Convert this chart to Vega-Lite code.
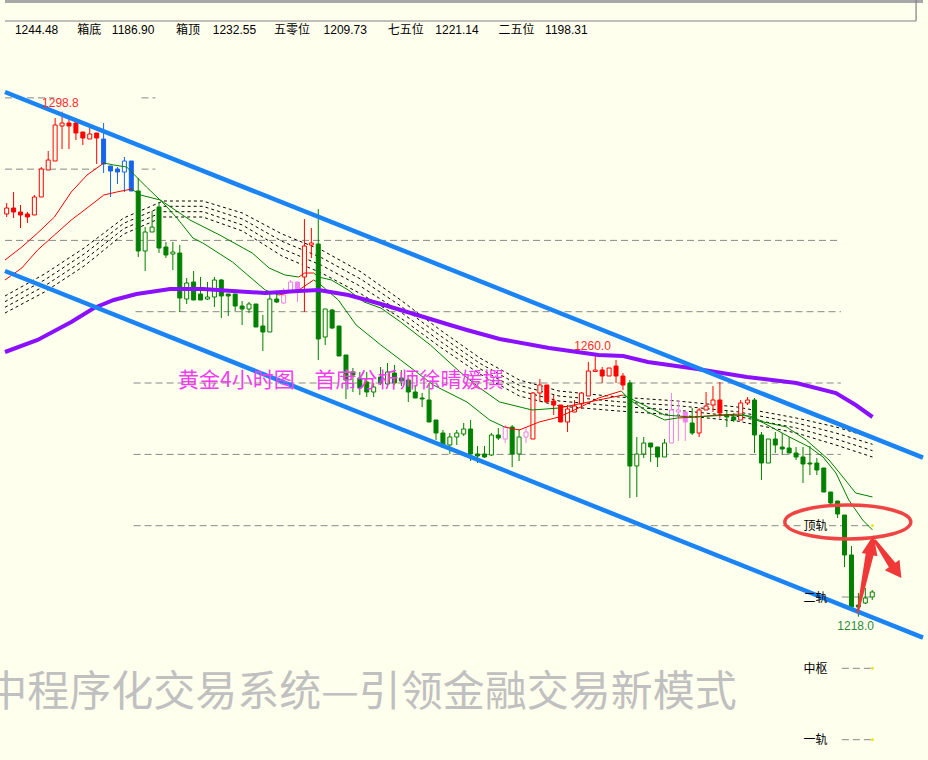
{
"$schema":"https://vega.github.io/schema/vega-lite/v6.json",
"width":928,"height":760,"padding":0,
"autosize":{"type":"none"},
"background":"#ffffee",
"config":{"view":{"stroke":null}},
"datasets":{
"candles":[
{"i":0,"o":1282.42,"h":1284.18,"l":1281.94,"c":1283.38,"k":"r"},
{"i":1,"o":1283.38,"h":1285.94,"l":1281.78,"c":1282.74,"k":"r"},
{"i":2,"o":1282.74,"h":1283.86,"l":1280.18,"c":1282.26,"k":"r"},
{"i":3,"o":1282.42,"h":1282.74,"l":1280.98,"c":1281.94,"k":"r"},
{"i":4,"o":1282.26,"h":1285.46,"l":1282.26,"c":1285.14,"k":"r"},
{"i":5,"o":1285.14,"h":1289.94,"l":1285.14,"c":1289.62,"k":"r"},
{"i":6,"o":1289.46,"h":1292.5,"l":1289.46,"c":1291.06,"k":"r"},
{"i":7,"o":1290.9,"h":1297.78,"l":1290.9,"c":1296.66,"k":"r"},
{"i":8,"o":1296.5,"h":1298.8,"l":1292.82,"c":1296.98,"k":"r"},
{"i":9,"o":1296.98,"h":1297.62,"l":1292.82,"c":1296.5,"k":"r"},
{"i":10,"o":1296.98,"h":1297.62,"l":1294.26,"c":1295.38,"k":"r"},
{"i":11,"o":1295.54,"h":1295.54,"l":1293.46,"c":1294.58,"k":"r"},
{"i":12,"o":1294.42,"h":1296.18,"l":1294.42,"c":1295.22,"k":"r"},
{"i":13,"o":1295.38,"h":1295.38,"l":1290.42,"c":1294.58,"k":"r"},
{"i":14,"o":1294.42,"h":1296.98,"l":1288.98,"c":1290.42,"k":"b"},
{"i":15,"o":1290.1,"h":1290.1,"l":1285.14,"c":1289.3,"k":"b"},
{"i":16,"o":1289.62,"h":1289.94,"l":1287.22,"c":1289.14,"k":"b"},
{"i":17,"o":1289.14,"h":1291.54,"l":1285.94,"c":1290.9,"k":"b"},
{"i":18,"o":1290.9,"h":1290.9,"l":1286.1,"c":1286.1,"k":"b"},
{"i":19,"o":1286.1,"h":1288.18,"l":1275.54,"c":1276.5,"k":"g"},
{"i":20,"o":1276.5,"h":1280.34,"l":1273.3,"c":1279.54,"k":"g"},
{"i":21,"o":1279.54,"h":1282.9,"l":1279.54,"c":1280.34,"k":"g"},
{"i":22,"o":1283.54,"h":1284.34,"l":1276.18,"c":1276.98,"k":"g"},
{"i":23,"o":1277.14,"h":1277.94,"l":1275.38,"c":1275.86,"k":"g"},
{"i":24,"o":1276.02,"h":1277.94,"l":1273.46,"c":1276.34,"k":"g"},
{"i":25,"o":1276.18,"h":1277.46,"l":1266.74,"c":1268.98,"k":"g"},
{"i":26,"o":1268.82,"h":1272.18,"l":1268.02,"c":1271.38,"k":"g"},
{"i":27,"o":1271.54,"h":1273.3,"l":1268.66,"c":1268.66,"k":"g"},
{"i":28,"o":1269.62,"h":1272.34,"l":1268.66,"c":1268.66,"k":"g"},
{"i":29,"o":1268.82,"h":1271.54,"l":1268.66,"c":1269.14,"k":"g"},
{"i":30,"o":1269.14,"h":1272.34,"l":1267.54,"c":1271.86,"k":"g"},
{"i":31,"o":1271.86,"h":1272.02,"l":1265.78,"c":1269.3,"k":"g"},
{"i":32,"o":1269.62,"h":1269.62,"l":1266.1,"c":1269.3,"k":"g"},
{"i":33,"o":1269.62,"h":1269.62,"l":1266.9,"c":1267.7,"k":"g"},
{"i":34,"o":1267.7,"h":1268.5,"l":1264.66,"c":1267.22,"k":"g"},
{"i":35,"o":1267.22,"h":1268.34,"l":1266.58,"c":1268.02,"k":"g"},
{"i":36,"o":1268.02,"h":1268.02,"l":1264.34,"c":1264.34,"k":"g"},
{"i":37,"o":1264.5,"h":1266.26,"l":1260.5,"c":1263.54,"k":"g"},
{"i":38,"o":1263.54,"h":1269.78,"l":1263.54,"c":1268.82,"k":"g"},
{"i":39,"o":1268.82,"h":1269.78,"l":1268.18,"c":1268.34,"k":"g"},
{"i":40,"o":1268.18,"h":1270.58,"l":1268.02,"c":1269.46,"k":"p"},
{"i":41,"o":1269.94,"h":1271.86,"l":1269.94,"c":1271.54,"k":"p"},
{"i":42,"o":1271.54,"h":1271.54,"l":1268.34,"c":1269.94,"k":"p"},
{"i":43,"o":1272.34,"h":1281.62,"l":1266.74,"c":1277.3,"k":"r"},
{"i":44,"o":1277.46,"h":1280.18,"l":1275.38,"c":1277.78,"k":"r"},
{"i":45,"o":1277.62,"h":1283.22,"l":1259.06,"c":1262.42,"k":"g"},
{"i":46,"o":1262.74,"h":1267.22,"l":1261.46,"c":1267.22,"k":"g"},
{"i":47,"o":1267.06,"h":1267.22,"l":1264.02,"c":1264.18,"k":"g"},
{"i":48,"o":1264.5,"h":1264.5,"l":1259.7,"c":1259.7,"k":"g"},
{"i":49,"o":1259.86,"h":1259.86,"l":1252.82,"c":1255.86,"k":"g"},
{"i":50,"o":1257.14,"h":1257.78,"l":1253.94,"c":1256.66,"k":"g"},
{"i":51,"o":1256.18,"h":1257.14,"l":1253.46,"c":1254.58,"k":"g"},
{"i":52,"o":1255.54,"h":1257.14,"l":1253.14,"c":1253.94,"k":"g"},
{"i":53,"o":1253.94,"h":1255.38,"l":1253.14,"c":1254.74,"k":"g"},
{"i":54,"o":1256.34,"h":1257.94,"l":1255.06,"c":1255.38,"k":"g"},
{"i":55,"o":1255.22,"h":1258.58,"l":1254.9,"c":1257.14,"k":"g"},
{"i":56,"o":1256.98,"h":1258.26,"l":1255.06,"c":1255.38,"k":"g"},
{"i":57,"o":1256.18,"h":1257.46,"l":1254.9,"c":1255.7,"k":"g"},
{"i":58,"o":1255.86,"h":1256.18,"l":1252.34,"c":1253.94,"k":"g"},
{"i":59,"o":1253.94,"h":1255.06,"l":1252.98,"c":1252.98,"k":"g"},
{"i":60,"o":1252.98,"h":1253.78,"l":1251.54,"c":1252.82,"k":"g"},
{"i":61,"o":1252.66,"h":1255.38,"l":1249.14,"c":1249.14,"k":"g"},
{"i":62,"o":1249.46,"h":1249.46,"l":1246.26,"c":1247.38,"k":"g"},
{"i":63,"o":1247.38,"h":1247.86,"l":1244.98,"c":1245.14,"k":"g"},
{"i":64,"o":1245.46,"h":1247.38,"l":1244.02,"c":1246.74,"k":"g"},
{"i":65,"o":1246.74,"h":1247.86,"l":1245.46,"c":1247.38,"k":"g"},
{"i":66,"o":1247.22,"h":1248.98,"l":1246.9,"c":1248.02,"k":"g"},
{"i":67,"o":1248.02,"h":1249.46,"l":1242.9,"c":1244.02,"k":"g"},
{"i":68,"o":1244.02,"h":1245.3,"l":1242.58,"c":1243.7,"k":"g"},
{"i":69,"o":1244.02,"h":1245.3,"l":1243.38,"c":1243.54,"k":"g"},
{"i":70,"o":1243.86,"h":1247.38,"l":1243.7,"c":1247.06,"k":"g"},
{"i":71,"o":1247.06,"h":1248.18,"l":1246.26,"c":1246.58,"k":"g"},
{"i":72,"o":1246.42,"h":1248.66,"l":1245.78,"c":1248.34,"k":"p"},
{"i":73,"o":1248.34,"h":1248.66,"l":1241.94,"c":1244.02,"k":"g"},
{"i":74,"o":1244.02,"h":1248.02,"l":1242.9,"c":1246.74,"k":"g"},
{"i":75,"o":1246.74,"h":1248.34,"l":1245.78,"c":1247.54,"k":"p"},
{"i":76,"o":1246.42,"h":1253.94,"l":1246.42,"c":1253.78,"k":"r"},
{"i":77,"o":1253.78,"h":1256.02,"l":1252.34,"c":1255.06,"k":"r"},
{"i":78,"o":1255.06,"h":1255.06,"l":1252.34,"c":1252.34,"k":"r"},
{"i":79,"o":1252.5,"h":1253.46,"l":1250.26,"c":1251.86,"k":"r"},
{"i":80,"o":1251.86,"h":1251.86,"l":1249.14,"c":1249.14,"k":"r"},
{"i":81,"o":1249.14,"h":1251.86,"l":1247.54,"c":1251.22,"k":"r"},
{"i":82,"o":1250.74,"h":1252.66,"l":1250.74,"c":1251.7,"k":"r"},
{"i":83,"o":1252.02,"h":1253.94,"l":1251.22,"c":1253.78,"k":"r"},
{"i":84,"o":1253.3,"h":1258.74,"l":1253.3,"c":1257.3,"k":"r"},
{"i":85,"o":1257.22,"h":1260.0,"l":1257.22,"c":1257.46,"k":"r"},
{"i":86,"o":1257.46,"h":1257.94,"l":1255.38,"c":1256.5,"k":"r"},
{"i":87,"o":1256.5,"h":1257.78,"l":1256.5,"c":1257.78,"k":"r"},
{"i":88,"o":1258.1,"h":1259.06,"l":1255.38,"c":1256.5,"k":"r"},
{"i":89,"o":1256.5,"h":1256.98,"l":1254.26,"c":1255.06,"k":"r"},
{"i":90,"o":1255.38,"h":1255.86,"l":1236.98,"c":1242.1,"k":"g"},
{"i":91,"o":1242.1,"h":1246.74,"l":1237.14,"c":1244.02,"k":"g"},
{"i":92,"o":1244.02,"h":1246.74,"l":1243.38,"c":1245.78,"k":"g"},
{"i":93,"o":1245.78,"h":1245.78,"l":1242.74,"c":1245.14,"k":"g"},
{"i":94,"o":1245.14,"h":1245.14,"l":1241.94,"c":1243.54,"k":"g"},
{"i":95,"o":1243.54,"h":1246.42,"l":1243.54,"c":1245.78,"k":"g"},
{"i":96,"o":1245.78,"h":1253.78,"l":1245.78,"c":1251.06,"k":"p"},
{"i":97,"o":1250.74,"h":1252.66,"l":1246.1,"c":1251.06,"k":"p"},
{"i":98,"o":1250.74,"h":1250.74,"l":1246.1,"c":1249.14,"k":"p"},
{"i":99,"o":1248.98,"h":1251.38,"l":1247.06,"c":1247.38,"k":"g"},
{"i":100,"o":1247.38,"h":1251.38,"l":1246.74,"c":1251.06,"k":"r"},
{"i":101,"o":1251.06,"h":1253.94,"l":1251.06,"c":1251.7,"k":"r"},
{"i":102,"o":1251.86,"h":1254.9,"l":1250.74,"c":1252.66,"k":"r"},
{"i":103,"o":1252.66,"h":1255.54,"l":1249.78,"c":1250.58,"k":"r"},
{"i":104,"o":1250.26,"h":1251.06,"l":1248.34,"c":1249.94,"k":"g"},
{"i":105,"o":1249.94,"h":1250.58,"l":1249.14,"c":1249.46,"k":"g"},
{"i":106,"o":1249.46,"h":1252.66,"l":1249.46,"c":1252.18,"k":"r"},
{"i":107,"o":1252.18,"h":1253.14,"l":1251.86,"c":1252.66,"k":"r"},
{"i":108,"o":1252.66,"h":1252.98,"l":1244.18,"c":1247.06,"k":"g"},
{"i":109,"o":1247.06,"h":1247.54,"l":1239.86,"c":1242.58,"k":"g"},
{"i":110,"o":1242.58,"h":1246.42,"l":1242.58,"c":1246.42,"k":"g"},
{"i":111,"o":1246.42,"h":1247.54,"l":1244.18,"c":1245.46,"k":"g"},
{"i":112,"o":1245.14,"h":1247.38,"l":1243.86,"c":1244.82,"k":"g"},
{"i":113,"o":1244.98,"h":1246.74,"l":1244.18,"c":1244.18,"k":"g"},
{"i":114,"o":1244.18,"h":1245.14,"l":1243.06,"c":1243.54,"k":"g"},
{"i":115,"o":1243.54,"h":1245.14,"l":1239.38,"c":1242.42,"k":"g"},
{"i":116,"o":1242.58,"h":1245.3,"l":1240.66,"c":1242.42,"k":"g"},
{"i":117,"o":1242.58,"h":1243.38,"l":1240.66,"c":1241.46,"k":"g"},
{"i":118,"o":1241.78,"h":1241.78,"l":1237.94,"c":1237.94,"k":"g"},
{"i":119,"o":1237.94,"h":1237.94,"l":1235.54,"c":1236.18,"k":"g"},
{"i":120,"o":1236.5,"h":1236.5,"l":1233.78,"c":1234.42,"k":"g"},
{"i":121,"o":1234.26,"h":1234.26,"l":1225.94,"c":1227.86,"k":"g"},
{"i":122,"o":1227.86,"h":1229.3,"l":1219.38,"c":1219.54,"k":"g"},
{"i":123,"o":1219.86,"h":1221.78,"l":1218.0,"c":1219.54,"k":"g"},
{"i":124,"o":1220.18,"h":1222.58,"l":1220.02,"c":1220.98,"k":"g"},
{"i":125,"o":1221.14,"h":1222.26,"l":1220.66,"c":1221.94,"k":"g"}
],
"grid":[
{"i":-0.24,"i2":6.9,"p":1301.0},
{"i":19.47,"i2":21.47,"p":1301.0},
{"i":-0.24,"i2":12.9,"p":1289.6},
{"i":19.47,"i2":21.47,"p":1289.6},
{"i":-0.24,"i2":120.47,"p":1278.2},
{"i":18.61,"i2":120.47,"p":1266.79},
{"i":18.33,"i2":120.47,"p":1255.38},
{"i":18.33,"i2":120.47,"p":1243.96},
{"i":18.33,"i2":114.76,"p":1232.55},
{"i":118.76,"i2":125.04,"p":1232.55},
{"i":120.61,"i2":125.04,"p":1221.14},
{"i":120.61,"i2":125.04,"p":1209.73},
{"i":120.61,"i2":125.04,"p":1198.31}
],
"band":[
{"i":-0.24,"b1":1269.3,"b2":1268.39,"b3":1267.49,"b4":1266.58},
{"i":5.47,"b1":1272.82,"b2":1271.86,"b3":1270.9,"b4":1269.94},
{"i":11.19,"b1":1276.98,"b2":1276.02,"b3":1275.06,"b4":1274.1},
{"i":16.9,"b1":1281.78,"b2":1280.93,"b3":1280.07,"b4":1279.22},
{"i":22.61,"b1":1284.5,"b2":1283.65,"b3":1282.79,"b4":1281.94},
{"i":28.33,"b1":1284.5,"b2":1283.65,"b3":1282.79,"b4":1281.94},
{"i":34.04,"b1":1282.58,"b2":1281.62,"b3":1280.66,"b4":1279.7},
{"i":39.76,"b1":1279.22,"b2":1278.05,"b3":1276.87,"b4":1275.7},
{"i":45.47,"b1":1276.66,"b2":1275.43,"b3":1274.21,"b4":1272.98},
{"i":51.19,"b1":1273.14,"b2":1271.97,"b3":1270.79,"b4":1269.62},
{"i":56.9,"b1":1268.66,"b2":1267.7,"b3":1266.74,"b4":1265.78},
{"i":62.61,"b1":1263.86,"b2":1262.95,"b3":1262.05,"b4":1261.14},
{"i":68.33,"b1":1259.38,"b2":1258.53,"b3":1257.67,"b4":1256.82},
{"i":74.04,"b1":1255.86,"b2":1255.01,"b3":1254.15,"b4":1253.3},
{"i":79.76,"b1":1254.1,"b2":1253.3,"b3":1252.5,"b4":1251.7},
{"i":88.33,"b1":1253.14,"b2":1252.39,"b3":1251.65,"b4":1250.9},
{"i":96.9,"b1":1252.5,"b2":1251.75,"b3":1251.01,"b4":1250.26},
{"i":105.47,"b1":1251.54,"b2":1250.79,"b3":1250.05,"b4":1249.3},
{"i":114.04,"b1":1249.78,"b2":1248.98,"b3":1248.18,"b4":1247.38},
{"i":119.76,"b1":1248.34,"b2":1247.38,"b3":1246.42,"b4":1245.46},
{"i":125.04,"b1":1246.58,"b2":1245.57,"b3":1244.55,"b4":1243.54}
],
"ma":[
{"i":-0.24,"p":1275.06,"s":"f1","k":"r"},{"i":2.19,"p":1277.14,"s":"f1","k":"r"},{"i":4.47,"p":1279.38,"s":"f1","k":"r"},{"i":6.9,"p":1281.94,"s":"f1","k":"r"},{"i":9.33,"p":1285.94,"s":"f1","k":"r"},{"i":11.61,"p":1288.66,"s":"f1","k":"r"},{"i":14.04,"p":1290.58,"s":"f1","k":"r"},
{"i":14.04,"p":1290.58,"s":"f2","k":"g"},{"i":15.47,"p":1290.26,"s":"f2","k":"g"},{"i":17.33,"p":1289.94,"s":"f2","k":"g"},{"i":18.76,"p":1288.34,"s":"f2","k":"g"},{"i":20.19,"p":1286.74,"s":"f2","k":"g"},{"i":22.61,"p":1284.18,"s":"f2","k":"g"},{"i":24.47,"p":1281.94,"s":"f2","k":"g"},{"i":26.9,"p":1278.58,"s":"f2","k":"g"},{"i":28.33,"p":1277.78,"s":"f2","k":"g"},{"i":32.61,"p":1274.74,"s":"f2","k":"g"},{"i":37.33,"p":1270.26,"s":"f2","k":"g"},{"i":39.33,"p":1269.46,"s":"f2","k":"g"},
{"i":39.33,"p":1269.46,"s":"f3","k":"r"},{"i":42.19,"p":1270.26,"s":"f3","k":"r"},{"i":44.33,"p":1271.86,"s":"f3","k":"r"},
{"i":44.33,"p":1271.86,"s":"f4","k":"g"},{"i":45.04,"p":1271.38,"s":"f4","k":"g"},{"i":47.9,"p":1268.66,"s":"f4","k":"g"},{"i":50.47,"p":1264.66,"s":"f4","k":"g"},{"i":54.04,"p":1261.46,"s":"f4","k":"g"},{"i":56.9,"p":1259.06,"s":"f4","k":"g"},{"i":61.61,"p":1255.06,"s":"f4","k":"g"},{"i":66.47,"p":1252.34,"s":"f4","k":"g"},{"i":69.76,"p":1249.46,"s":"f4","k":"g"},{"i":71.9,"p":1248.34,"s":"f4","k":"g"},
{"i":71.9,"p":1248.34,"s":"f5","k":"r"},{"i":74.04,"p":1247.86,"s":"f5","k":"r"},{"i":76.9,"p":1249.14,"s":"f5","k":"r"},{"i":79.76,"p":1249.94,"s":"f5","k":"r"},{"i":82.61,"p":1251.38,"s":"f5","k":"r"},{"i":85.47,"p":1252.98,"s":"f5","k":"r"},{"i":88.76,"p":1254.1,"s":"f5","k":"r"},
{"i":88.76,"p":1254.1,"s":"f6","k":"g"},{"i":90.04,"p":1252.66,"s":"f6","k":"g"},{"i":92.61,"p":1250.74,"s":"f6","k":"g"},{"i":95.04,"p":1249.46,"s":"f6","k":"g"},{"i":96.9,"p":1249.78,"s":"f6","k":"g"},
{"i":96.9,"p":1249.78,"s":"f7","k":"r"},{"i":99.76,"p":1249.94,"s":"f7","k":"r"},{"i":102.61,"p":1250.26,"s":"f7","k":"r"},{"i":106.19,"p":1250.42,"s":"f7","k":"r"},
{"i":106.19,"p":1250.42,"s":"f8","k":"g"},{"i":109.33,"p":1248.98,"s":"f8","k":"g"},{"i":113.04,"p":1246.74,"s":"f8","k":"g"},{"i":115.9,"p":1245.14,"s":"f8","k":"g"},{"i":117.9,"p":1243.54,"s":"f8","k":"g"},{"i":119.76,"p":1240.98,"s":"f8","k":"g"},{"i":121.61,"p":1236.66,"s":"f8","k":"g"},{"i":123.61,"p":1233.46,"s":"f8","k":"g"},{"i":125.04,"p":1231.86,"s":"f8","k":"g"},
{"i":-0.24,"p":1271.86,"s":"s1","k":"r"},{"i":2.19,"p":1273.78,"s":"s1","k":"r"},{"i":4.47,"p":1276.66,"s":"s1","k":"r"},{"i":6.9,"p":1279.06,"s":"s1","k":"r"},{"i":9.33,"p":1281.46,"s":"s1","k":"r"},{"i":11.61,"p":1283.38,"s":"s1","k":"r"},{"i":14.04,"p":1285.46,"s":"s1","k":"r"},{"i":15.9,"p":1285.94,"s":"s1","k":"r"},{"i":18.04,"p":1286.42,"s":"s1","k":"r"},
{"i":18.04,"p":1286.42,"s":"s2","k":"g"},{"i":19.33,"p":1285.46,"s":"s2","k":"g"},{"i":22.19,"p":1284.66,"s":"s2","k":"g"},{"i":26.47,"p":1281.46,"s":"s2","k":"g"},{"i":30.76,"p":1279.06,"s":"s2","k":"g"},{"i":35.47,"p":1276.18,"s":"s2","k":"g"},{"i":37.9,"p":1273.78,"s":"s2","k":"g"},{"i":40.19,"p":1272.66,"s":"s2","k":"g"},{"i":42.19,"p":1272.34,"s":"s2","k":"g"},
{"i":42.19,"p":1272.34,"s":"s3","k":"r"},{"i":43.04,"p":1272.98,"s":"s3","k":"r"},{"i":44.33,"p":1272.98,"s":"s3","k":"r"},
{"i":44.33,"p":1272.98,"s":"s4","k":"g"},{"i":45.04,"p":1272.34,"s":"s4","k":"g"},{"i":46.9,"p":1271.86,"s":"s4","k":"g"},{"i":49.33,"p":1270.26,"s":"s4","k":"g"},{"i":51.61,"p":1268.34,"s":"s4","k":"g"},{"i":54.04,"p":1267.38,"s":"s4","k":"g"},{"i":56.9,"p":1265.14,"s":"s4","k":"g"},{"i":61.19,"p":1261.46,"s":"s4","k":"g"},{"i":65.47,"p":1257.14,"s":"s4","k":"g"},{"i":68.33,"p":1254.58,"s":"s4","k":"g"},{"i":71.19,"p":1252.34,"s":"s4","k":"g"},{"i":75.9,"p":1251.06,"s":"s4","k":"g"},{"i":79.76,"p":1251.38,"s":"s4","k":"g"},
{"i":79.76,"p":1251.38,"s":"s5","k":"r"},{"i":82.61,"p":1252.02,"s":"s5","k":"r"},{"i":85.47,"p":1252.66,"s":"s5","k":"r"},{"i":89.04,"p":1253.46,"s":"s5","k":"r"},
{"i":89.04,"p":1253.46,"s":"s6","k":"g"},{"i":92.61,"p":1251.54,"s":"s6","k":"g"},{"i":95.04,"p":1250.26,"s":"s6","k":"g"},{"i":98.76,"p":1249.94,"s":"s6","k":"g"},{"i":104.47,"p":1250.26,"s":"s6","k":"g"},{"i":107.33,"p":1250.1,"s":"s6","k":"g"},{"i":109.33,"p":1249.14,"s":"s6","k":"g"},{"i":112.61,"p":1248.34,"s":"s6","k":"g"},{"i":115.47,"p":1246.26,"s":"s6","k":"g"},{"i":118.76,"p":1243.06,"s":"s6","k":"g"},{"i":120.76,"p":1240.34,"s":"s6","k":"g"},{"i":122.61,"p":1237.78,"s":"s6","k":"g"},{"i":125.04,"p":1237.14,"s":"s6","k":"g"}
],
"purple":[
{"i":-0.24,"p":1260.34},{"i":4.47,"p":1262.26},{"i":9.33,"p":1265.14},{"i":12.61,"p":1267.38},{"i":15.47,"p":1268.66},{"i":18.76,"p":1269.62},{"i":23.61,"p":1270.42},{"i":28.33,"p":1270.42},{"i":32.61,"p":1270.1},{"i":37.33,"p":1269.78},{"i":42.19,"p":1270.1},{"i":45.04,"p":1270.26},{"i":49.33,"p":1269.46},{"i":54.04,"p":1268.02},{"i":59.76,"p":1266.1},{"i":64.04,"p":1264.66},{"i":66.47,"p":1263.86},{"i":71.19,"p":1262.42},{"i":78.33,"p":1260.98},{"i":85.47,"p":1259.86},{"i":89.04,"p":1259.7},{"i":92.61,"p":1258.74},{"i":99.76,"p":1257.62},{"i":106.9,"p":1256.34},{"i":114.04,"p":1255.38},{"i":119.76,"p":1253.78},{"i":122.61,"p":1251.86},{"i":125.04,"p":1249.94}
],
"chan":[
{"i":-0.24,"p":1301.94,"s":"u"},{"i":132.33,"p":1243.44,"s":"u"},
{"i":-0.24,"p":1273.3,"s":"d"},{"i":132.33,"p":1214.64,"s":"d"}
],
"toptext":[
{"i":1.19,"p":1311.86,"t":"1244.48"},{"i":10.19,"p":1311.86,"t":"箱底"},{"i":15.19,"p":1311.86,"t":"1186.90"},{"i":24.47,"p":1311.86,"t":"箱顶"},{"i":29.76,"p":1311.86,"t":"1232.55"},{"i":38.61,"p":1311.86,"t":"五零位"},{"i":45.76,"p":1311.86,"t":"1209.73"},{"i":55.04,"p":1311.86,"t":"七五位"},{"i":61.9,"p":1311.86,"t":"1221.14"},{"i":71.04,"p":1311.86,"t":"二五位"},{"i":77.76,"p":1311.86,"t":"1198.31"}
],
"rails":[
{"i":116.8,"p":1232.5,"t":"顶轨"},{"i":116.8,"p":1221.0,"t":"二轨"},{"i":116.8,"p":1209.62,"t":"中枢"},{"i":116.8,"p":1198.26,"t":"一轨"}
]
},
"encoding":{
"x":{"field":"i","type":"quantitative","scale":{"domain":[-0.24,132.33],"nice":false,"zero":false},"axis":null},
"y":{"field":"p","type":"quantitative","scale":{"domain":[1195.06,1316.66],"nice":false,"zero":false},"axis":null}
},
"layer":[
{"data":{"values":[{"i":-0.24,"i2":132.33,"p":1316.66,"p2":1316.18}]},"mark":{"type":"rect","fill":"#a8a8a8"},"encoding":{"x2":{"field":"i2"},"y2":{"field":"p2"}}},
{"data":{"values":[{"i":-0.24,"i2":131.33,"p":1313.3}]},"mark":{"type":"rule","color":"#808080","strokeWidth":1.2},"encoding":{"x2":{"field":"i2"}}},
{"data":{"values":[{"i":131.33,"p":1316.66,"p2":1313.3}]},"mark":{"type":"rule","color":"#808080","strokeWidth":1.2},"encoding":{"y2":{"field":"p2"}}},
{"data":{"name":"grid"},"mark":{"type":"rule","color":"#888888","strokeWidth":1,"strokeDash":[7,4]},"encoding":{"x2":{"field":"i2"}}},
{"data":{"name":"band"},"transform":[{"fold":["b1","b2","b3","b4"],"as":["bk","bv"]}],
 "mark":{"type":"line","color":"#000000","strokeWidth":1,"strokeDash":[3,3]},
 "encoding":{"y":{"field":"bv","type":"quantitative","scale":{"domain":[1195.06,1316.66],"nice":false,"zero":false},"axis":null},"detail":{"field":"bk"}}},
{"data":{"name":"candles"},"mark":{"type":"rule","strokeWidth":1},
 "encoding":{"y":{"field":"l","type":"quantitative","scale":{"domain":[1195.06,1316.66],"nice":false,"zero":false},"axis":null},"y2":{"field":"h"},
 "color":{"field":"k","type":"nominal","scale":{"domain":["r","b","g","p"],"range":["#ff0000","#1464f0","#008000","#ee82ee"]},"legend":null}}},
{"data":{"name":"candles"},"transform":[{"filter":"datum.c < datum.o"}],"mark":{"type":"bar","width":4,"strokeWidth":1},
 "encoding":{"y":{"field":"o","type":"quantitative","scale":{"domain":[1195.06,1316.66],"nice":false,"zero":false},"axis":null},"y2":{"field":"c"},
 "fill":{"field":"k","type":"nominal","scale":{"domain":["r","b","g","p"],"range":["#ff0000","#1464f0","#008000","#ee82ee"]},"legend":null},
 "stroke":{"field":"k","type":"nominal","scale":{"domain":["r","b","g","p"],"range":["#ff0000","#1464f0","#008000","#ee82ee"]},"legend":null}}},
{"data":{"name":"candles"},"transform":[{"filter":"datum.c >= datum.o"}],"mark":{"type":"bar","width":4,"strokeWidth":1,"fill":"#ffffee"},
 "encoding":{"y":{"field":"o","type":"quantitative","scale":{"domain":[1195.06,1316.66],"nice":false,"zero":false},"axis":null},"y2":{"field":"c"},
 "stroke":{"field":"k","type":"nominal","scale":{"domain":["r","b","g","p"],"range":["#ff0000","#1464f0","#008000","#ee82ee"]},"legend":null}}},
{"data":{"name":"ma"},"mark":{"type":"line","strokeWidth":1},
 "encoding":{"detail":{"field":"s"},"color":{"field":"k","type":"nominal","scale":{"domain":["r","b","g","p"],"range":["#ff0000","#1464f0","#008000","#ee82ee"]},"legend":null}}},
{"data":{"name":"purple"},"mark":{"type":"line","strokeWidth":4,"color":"#8a10ff"},"encoding":{}},
{"data":{"name":"chan"},"mark":{"type":"line","strokeWidth":4.5,"color":"#1a84f5","clip":true},"encoding":{"detail":{"field":"s"}}},
{"data":{"name":"toptext"},"mark":{"type":"text","align":"left","baseline":"middle","fontSize":12,"font":"Liberation Sans, Noto Sans CJK SC","color":"#000000"},"encoding":{"text":{"field":"t"}}},
{"data":{"values":[{"i":7.76,"p":1300.18,"t":"1298.8"},{"i":84.6,"p":1261.3,"t":"1260.0"}]},"mark":{"type":"text","align":"center","baseline":"middle","fontSize":12,"font":"Liberation Sans","color":"#ff2a2a"},"encoding":{"text":{"field":"t"}}},
{"data":{"values":[{"i":122.6,"p":1216.5,"t":"1218.0"}]},"mark":{"type":"text","align":"center","baseline":"middle","fontSize":12,"font":"Liberation Sans","color":"#2a8a3a"},"encoding":{"text":{"field":"t"}}},
{"data":{"name":"rails"},"mark":{"type":"text","align":"center","baseline":"middle","fontSize":12,"font":"Noto Sans CJK SC","color":"#000000"},"encoding":{"text":{"field":"t"}}},
{"data":{"values":[{"i":24.76,"p":1255.7,"t":"黄金4小时图"},{"i":44.47,"p":1255.7,"t":"首席分析师徐晴媛撰"}]},"mark":{"type":"text","align":"left","baseline":"middle","fontSize":21,"font":"Noto Sans CJK SC","color":"#f23cf2"},"encoding":{"text":{"field":"t"}}},
{"data":{"values":[{"i":-3.1,"p":1205.78,"t":"中程序化交易系统—引领金融交易新模式"}]},"mark":{"type":"text","align":"left","baseline":"middle","fontSize":42,"font":"Noto Sans CJK SC","color":"#c0c0c0"},"encoding":{"text":{"field":"t"}}},
{"data":{"values":[{"i":125.04,"p":1232.55},{"i":125.04,"p":1209.73},{"i":125.04,"p":1198.31}]},"mark":{"type":"point","filled":true,"size":8,"color":"#e8e800","opacity":1},"encoding":{}},
{"data":{"values":[{"i":121.47,"p":1233.14}]},"mark":{"type":"point","shape":"M-63,0 A63,17 0 1,1 63,0 A63,17 0 1,1 -63,0 Z","size":4,"filled":false,"stroke":"#f04444","strokeWidth":3.5,"opacity":1},"encoding":{}},
{"data":{"values":[{"i":124.04,"p":1224.66}]},"mark":{"type":"point","shape":"M-8.98,37.8 L-7.02,38.2 L7.9,-19.6 L11.82,-18.79 L8,-40 L-3.86,-22.01 L0.06,-21.2 Z","size":4,"filled":true,"color":"#f03838","opacity":1},"encoding":{}},
{"data":{"values":[{"i":126.9,"p":1227.38}]},"mark":{"type":"point","shape":"M-9.78,-18.87 L9.99,4.64 L14.07,1.75 L16,20 L-0.61,12.17 L3.47,9.28 L-12.22,-17.13 Z","size":4,"filled":true,"color":"#f03838","opacity":1},"encoding":{}}
]
}
